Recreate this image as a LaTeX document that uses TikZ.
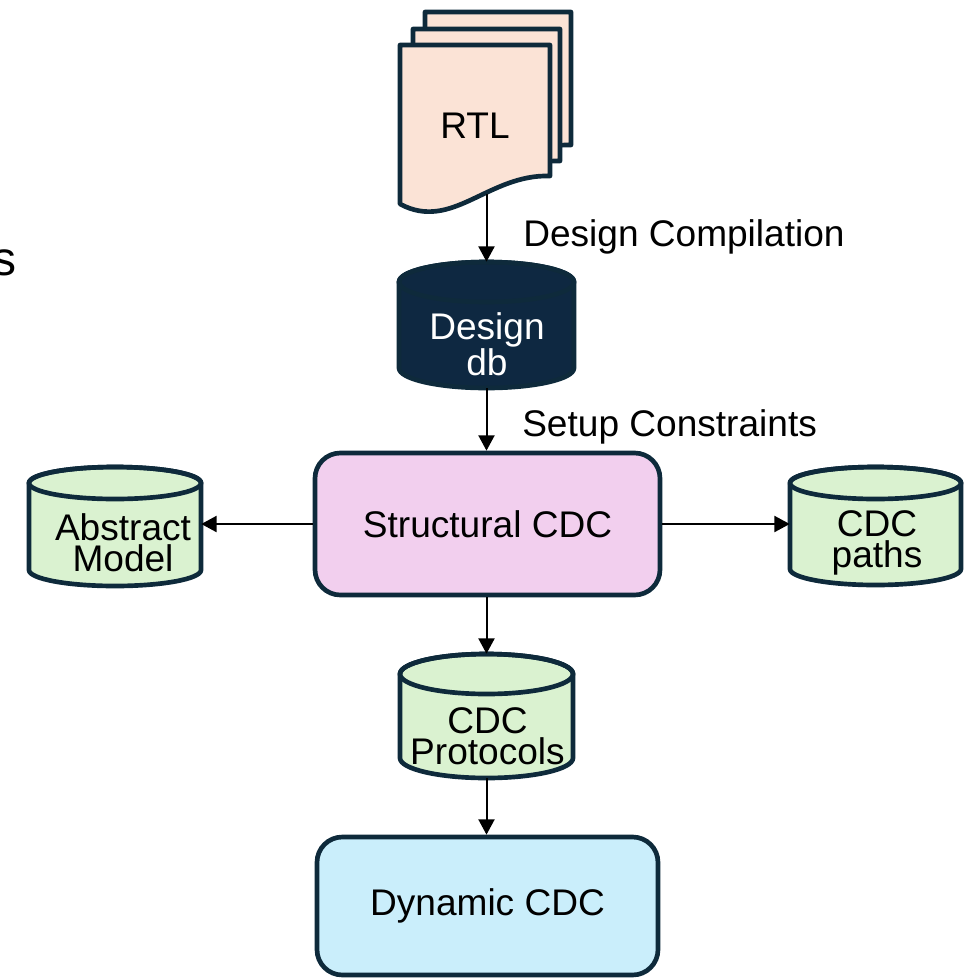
\documentclass[tikz,border=0pt]{standalone}
\usepackage{fontspec}
\setmainfont{Liberation Sans}
\usetikzlibrary{arrows.meta}
\definecolor{bordc}{HTML}{0E2A3B}
\definecolor{rtlfill}{HTML}{FBE3D6}
\definecolor{dbfill}{HTML}{0E2841}
\definecolor{greenfill}{HTML}{DAF2D0}
\definecolor{pinkfill}{HTML}{F2CFEE}
\definecolor{bluefill}{HTML}{CAEEFB}
\tikzset{
  shapeline/.style={draw=bordc, line width=3.5pt, line join=round},
  lbl/.style={inner sep=0pt, font=\fontsize{27.8}{23}\selectfont, align=center},
  procbox/.style={shapeline, rounded corners=19pt, inner sep=0pt, font=\fontsize{27.8}{23}\selectfont},
  conn/.style={line width=1.5pt, black, -{Triangle[length=11.5pt,width=12pt]}},
}
% name, cx, top, bottom, half width, ry, fill
\newcommand\mycyl[7]{%
  \draw[shapeline, fill=#7] ({#2-#5},{-(#3+#6)}) -- ({#2-#5},{-(#4-#6)})
    arc[start angle=180,end angle=360,x radius={#5*0.75pt},y radius={#6*0.75pt}]
    -- ({#2+#5},{-(#3+#6)})
    arc[start angle=0,end angle=180,x radius={#5*0.75pt},y radius={#6*0.75pt}] -- cycle;
  \draw[shapeline] (#2,{-(#3+#6)}) ellipse[x radius={#5*0.75pt},y radius={#6*0.75pt}];
  \node[inner sep=0pt, minimum width={2*#5*0.75pt}, minimum height={(#4-#3)*0.75pt}] (#1) at (#2,{-(#3+#4)/2}) {};
}
% left, right, top, right-bottom
\newcommand\docpg[4]{%
  \draw[shapeline, fill=rtlfill] (#1,-#3) -- (#2,-#3) -- (#2,-#4)
    .. controls ({#2-62},{-(#4-2)}) and ({#1+52},{-(#4+56)}) .. (#1,{-(#4+28)}) -- cycle;
}
\begin{document}
\begin{tikzpicture}[x=0.75pt,y=0.75pt]
\useasboundingbox (0,0) rectangle (974,-979);

% cut-off title letter
\node[inner sep=0pt, anchor=base east, font=\fontsize{36}{36}\selectfont] (title) at (16.5,-275) {s};

% RTL stack
\docpg{425}{571}{12}{145}
\docpg{413}{560}{29}{161}
\docpg{400}{550}{45}{176}
\node[lbl] (rtl) at (475,-126) {RTL};
\coordinate (rtlbot) at (486.5,-194);

% Design db
\mycyl{db}{486.5}{262}{388}{87.5}{20}{dbfill}
\node[lbl, text=white] (dbtext) at (487,-344) {Design\\db};

% Structural CDC
\node[procbox, fill=pinkfill, minimum width={345*0.75pt}, minimum height={142*0.75pt}] (struct) at (487.5,-524) {Structural CDC};

% Abstract model / CDC paths
\mycyl{abs}{115}{467}{586}{86}{16}{greenfill}
\node[lbl] (abstext) at (123,-543) {Abstract\\Model};
\mycyl{paths}{875.5}{467}{585}{85.5}{16}{greenfill}
\node[lbl] (pathstext) at (877,-543) {CDC\\paths};

% CDC Protocols
\mycyl{prot}{486.5}{654}{778}{86.5}{20}{greenfill}
\node[lbl] (prottext) at (487.5,-736) {CDC\\Protocols};

% Dynamic CDC
\node[procbox, fill=bluefill, minimum width={341*0.75pt}, minimum height={138*0.75pt}] (dyn) at (487.5,-906) {Dynamic CDC};

% connectors
\draw[conn] (rtlbot) -- (rtlbot |- db.north);
\draw[conn] (db.south) -- (db.south |- struct.north);
\draw[conn] (struct.west) -- (abs.east |- struct.west);
\draw[conn] (struct.east) -- (paths.west |- struct.east);
\draw[conn] (prot.north |- struct.south) -- (prot.north);
\draw[conn] (prot.south) -- (prot.south |- dyn.north);

% labels
\node[lbl, anchor=base west] (lcomp) at (523,-246.5) {Design Compilation};
\node[lbl, anchor=base west] (lsetup) at (522,-436.5) {Setup Constraints};
\end{tikzpicture}
\end{document}
